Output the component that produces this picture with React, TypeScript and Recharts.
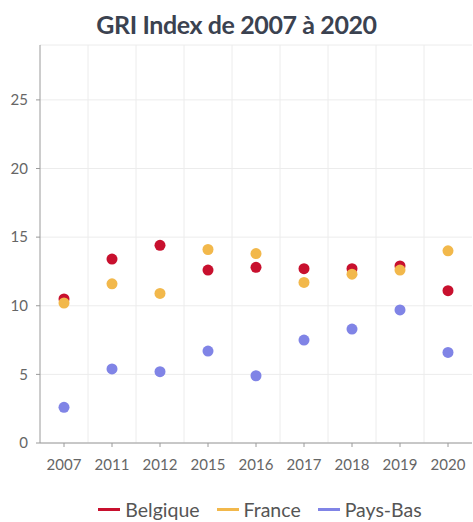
import { LineChart, Line, XAxis, YAxis, CartesianGrid, Legend } from 'recharts';

const years = ['2007', '2011', '2012', '2015', '2016', '2017', '2018', '2019', '2020'];
const belgique = [10.5, 13.4, 14.4, 12.6, 12.8, 12.7, 12.7, 12.9, 11.1];
const france = [10.2, 11.6, 10.9, 14.1, 13.8, 11.7, 12.3, 12.6, 14.0];
const paysBas = [2.6, 5.4, 5.2, 6.7, 4.9, 7.5, 8.3, 9.7, 6.6];
const yTicks = [0, 5, 10, 15, 20, 25];

const data = years.map((year, i) => ({
  year,
  Belgique: belgique[i],
  France: france[i],
  'Pays-Bas': paysBas[i],
}));

const series = [
  { key: 'Belgique', color: '#c8102e' },
  { key: 'France', color: '#f2b84b' },
  { key: 'Pays-Bas', color: '#8084e6' },
];

const font = 'Lato, "Open Sans", sans-serif';

function LegendRow({ payload }: any) {
  return (
    <div style={{ display: 'flex', justifyContent: 'center', gap: 17, fontFamily: font, fontSize: 19.5, color: '#555', lineHeight: '23px' }}>
      {(payload || []).map((p: any) => (
        <div key={p.value} style={{ display: 'flex', alignItems: 'center', gap: 5 }}>
          <span style={{ display: 'inline-block', width: 22, height: 3, background: p.color }} />
          <span>{p.value}</span>
        </div>
      ))}
    </div>
  );
}

export default function App() {
  // grid lines sit between categories, not on them
  const between = ({ offset }: any) => {
    const step = offset.width / years.length;
    return years.slice(1).map((_, i) => offset.left + step * (i + 1));
  };

  return (
    <div style={{ position: 'absolute', left: 0, top: 0, width: 473, height: 522, fontFamily: font }}>
      <div
        style={{
          position: 'absolute',
          top: 8,
          width: '100%',
          textAlign: 'center',
          fontWeight: 700,
          fontSize: 25,
          lineHeight: '32px',
          color: '#3b4250',
          letterSpacing: -0.4,
        }}
      >
        GRI Index de 2007 à 2020
      </div>
      <LineChart width={473} height={522} data={data} margin={{ top: 45, right: 1, left: 0, bottom: 1 }}>
        <CartesianGrid stroke="#ececec" verticalCoordinatesGenerator={between} />
        <XAxis
          dataKey="year"
          scale="band"
          height={55}
          stroke="#9a9a9a"
          tickSize={4}
          tickMargin={12}
          tick={{ fill: '#666', fontSize: 15, fontFamily: font }}
        />
        <YAxis
          width={40}
          domain={[0, 29]}
          ticks={yTicks}
          stroke="#9a9a9a"
          tickSize={4}
          tickMargin={8}
          tick={{ fill: '#666', fontSize: 15, fontFamily: font }}
        />
        <Legend verticalAlign="bottom" wrapperStyle={{ paddingLeft: 24 }} content={<LegendRow />} />
        {series.map((s) => (
          <Line
            key={s.key}
            dataKey={s.key}
            stroke={s.color}
            strokeOpacity={0}
            legendType="plainline"
            dot={{ r: 5.5, fill: s.color, stroke: 'none', fillOpacity: 1, strokeOpacity: 0 }}
            activeDot={false}
            isAnimationActive={false}
          />
        ))}
      </LineChart>
    </div>
  );
}
